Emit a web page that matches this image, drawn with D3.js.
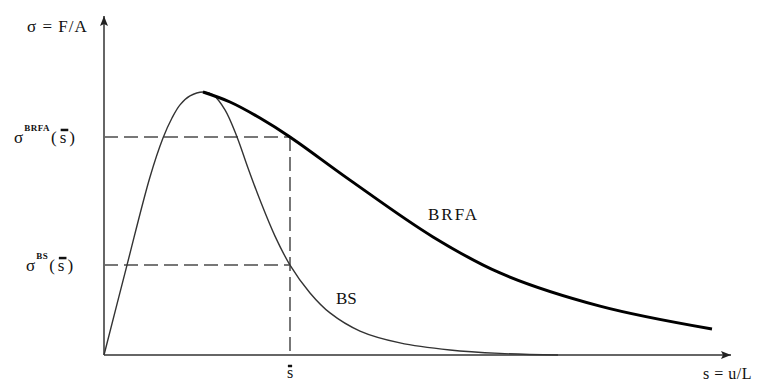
<!DOCTYPE html>
<html>
<head>
<meta charset="utf-8">
<script src="https://cdn.jsdelivr.net/npm/d3@7"></script>
<style>
  body { margin: 0; background: #fff; }
  text { font-family: "Liberation Serif", "DejaVu Serif", serif; fill: #111; }
</style>
</head>
<body>
<svg id="chart"></svg>
<script>
// curve samples (s along x, sigma normalised to peak = 1)
var bsS     = [0, 0.23, 0.46, 0.59, 0.68, 0.76, 0.86, 0.99, 1.09, 1.21, 1.33, 1.44, 1.56, 1.71, 1.86, 2.06, 2.26, 2.56, 2.96, 3.46, 3.96, 4.54];
var bsSigma = [0, 0.342, 0.677, 0.825, 0.901, 0.951, 0.985, 1.0, 0.989, 0.932, 0.829, 0.711, 0.589, 0.452, 0.342, 0.236, 0.160, 0.091, 0.046, 0.019, 0.006, 0];

var brfaS     = [0.99, 1.26, 1.56, 1.86, 2.46, 3.29, 3.96, 4.96, 6.08];
var brfaSigma = [1.0, 0.962, 0.901, 0.829, 0.665, 0.449, 0.312, 0.186, 0.099];

var sBar = 1.86;          // marked abscissa
var sigmaBRFA = 0.829;    // BRFA value at sBar
var sigmaBS = 0.342;      // BS value at sBar

var width = 765, height = 382;

var svg = d3.select("#chart")
  .attr("width", width)
  .attr("height", height);

var x = d3.scaleLinear().domain([0, 6.26]).range([104, 730]);
var y = d3.scaleLinear().domain([0, 1]).range([355, 92]);

var defs = svg.append("defs");
defs.append("marker")
  .attr("id", "arrow")
  .attr("viewBox", "0 -5 10 10")
  .attr("refX", 10)
  .attr("refY", 0)
  .attr("orient", "auto")
  .attr("markerUnits", "userSpaceOnUse")
  .attr("markerWidth", 12)
  .attr("markerHeight", 10)
  .append("path")
  .attr("d", "M 0,-4 L 10,0 L 0,4 L 2,0 Z")
  .attr("fill", "#222");

// dashed guide lines
var guides = svg.append("g")
  .attr("stroke", "#777")
  .attr("stroke-width", 2)
  .attr("stroke-dasharray", "14,6")
  .attr("fill", "none");

guides.append("line")
  .attr("x1", x(0)).attr("x2", x(sBar))
  .attr("y1", y(sigmaBRFA)).attr("y2", y(sigmaBRFA));
guides.append("line")
  .attr("x1", x(0)).attr("x2", x(sBar))
  .attr("y1", y(sigmaBS)).attr("y2", y(sigmaBS));
guides.append("line")
  .attr("x1", x(sBar)).attr("x2", x(sBar))
  .attr("y1", y(sigmaBRFA)).attr("y2", y(0));

// axes
svg.append("line")
  .attr("x1", x(0)).attr("y1", y(0))
  .attr("x2", x(0)).attr("y2", 16)
  .attr("stroke", "#666").attr("stroke-width", 2)
  .attr("marker-end", "url(#arrow)");
svg.append("line")
  .attr("x1", x(0)).attr("y1", y(0))
  .attr("x2", 731).attr("y2", y(0))
  .attr("stroke", "#666").attr("stroke-width", 2)
  .attr("marker-end", "url(#arrow)");

var line = d3.line()
  .x(d => x(d[0]))
  .y(d => y(d[1]))
  .curve(d3.curveCatmullRom.alpha(0.5));

svg.append("path")
  .datum(d3.zip(bsS, bsSigma))
  .attr("d", line)
  .attr("fill", "none")
  .attr("stroke", "#333")
  .attr("stroke-width", 1.4);

svg.append("path")
  .datum(d3.zip(brfaS, brfaSigma))
  .attr("d", line)
  .attr("fill", "none")
  .attr("stroke", "#000")
  .attr("stroke-width", 3);

// labels
svg.append("text")
  .attr("x", 27).attr("y", 32)
  .style("font-size", "17px")
  .style("letter-spacing", "1px")
  .text("σ = F/A");

svg.append("text")
  .attr("x", 703).attr("y", 379)
  .style("font-size", "16px")
  .style("letter-spacing", "0.5px")
  .text("s = u/L");

svg.append("text")
  .attr("x", 428).attr("y", 220)
  .style("font-size", "17px")
  .style("letter-spacing", "2px")
  .text("BRFA");

svg.append("text")
  .attr("x", 336).attr("y", 304)
  .style("font-size", "17px")
  .text("BS");

// overline above one character of a text element
function overline(textSel, idx) {
  var b = textSel.node().getExtentOfChar(idx);
  svg.append("line")
    .attr("x1", b.x + 1).attr("x2", b.x + b.width - 1)
    .attr("y1", b.y + 2).attr("y2", b.y + 2)
    .attr("stroke", "#111")
    .attr("stroke-width", 2.5);
}

function sigmaLabel(xPos, yPos, sup) {
  var t = svg.append("text")
    .attr("x", xPos).attr("y", yPos)
    .style("font-size", "17px");
  t.append("tspan").text("σ");
  t.append("tspan")
    .attr("dy", -12)
    .attr("dx", 1)
    .style("font-size", "9px")
    .style("font-weight", "bold")
    .style("letter-spacing", "0.5px")
    .text(sup);
  t.append("tspan")
    .attr("dy", 12)
    .attr("dx", 1)
    .style("letter-spacing", "3px")
    .text("(s)");
  overline(t, 1 + sup.length + 1);
}

sigmaLabel(14, y(sigmaBRFA) + 6, "BRFA");
sigmaLabel(26, y(sigmaBS) + 6, "BS");

var sLab = svg.append("text")
  .attr("x", x(sBar)).attr("y", 378)
  .attr("text-anchor", "middle")
  .style("font-size", "16px")
  .text("s");
overline(sLab, 0);
</script>
</body>
</html>
